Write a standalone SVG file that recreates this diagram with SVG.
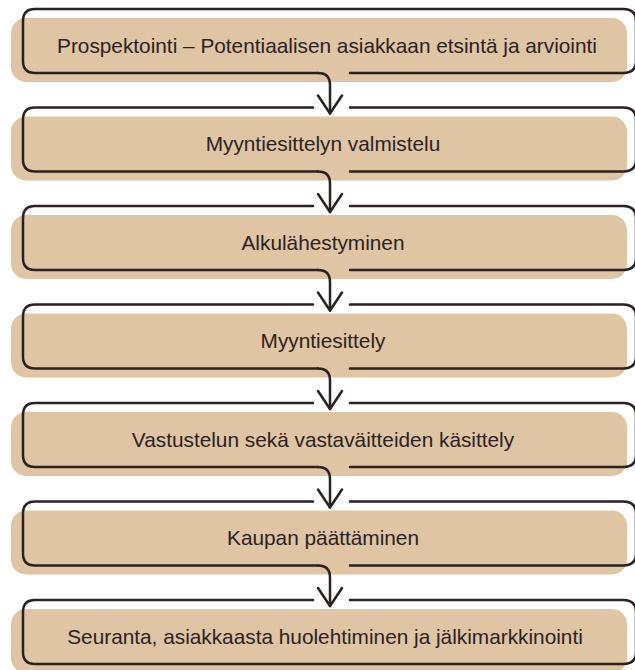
<svg xmlns="http://www.w3.org/2000/svg" width="635" height="670" viewBox="0 0 635 670">
<style>
.bg{fill:#DFC5A3;}
.ol{fill:none;stroke:#2b2121;stroke-width:2.5;stroke-linecap:round;stroke-linejoin:round;}
.t{font-family:"Liberation Sans",Arial,sans-serif;font-size:20.8px;fill:#2b2222;text-anchor:middle;}
</style>
<defs>
<marker id="ah" markerUnits="userSpaceOnUse" viewBox="-20 -20 40 40" markerWidth="40" markerHeight="40" refX="0" refY="0" orient="auto">
<path d="M -18,-12 L 0,0 L -18,12" fill="none" stroke="#2b2121" stroke-width="2.5" stroke-linecap="round" stroke-linejoin="round"/>
</marker>
</defs>
<rect width="635" height="670" fill="#ffffff"/>
<g id="step1">
<rect class="bg" x="11" y="18" width="616" height="64" rx="15"/>
<path class="ol" d="M 350,73 L 623,73 Q 636,73 636,61 L 636,21 Q 636,9 623,9 L 35,9 Q 23,9 23,21 L 23,61 Q 23,73 35,73 L 318,73"/>
<text class="t" x="327" y="52.5">Prospektointi – Potentiaalisen asiakkaan etsintä ja arviointi</text>
</g>
<g id="step2">
<rect class="bg" x="11" y="116.5" width="616" height="64" rx="15"/>
<path class="ol" d="M 313,107.5 L 35,107.5 Q 23,107.5 23,119.5 L 23,159.5 Q 23,171.5 35,171.5 L 318,171.5 M 350,171.5 L 623,171.5 Q 636,171.5 636,159.5 L 636,119.5 Q 636,107.5 623,107.5 L 350,107.5"/>
<text class="t" x="323" y="151">Myyntiesittelyn valmistelu</text>
</g>
<g id="step3">
<rect class="bg" x="11" y="215" width="616" height="64" rx="15"/>
<path class="ol" d="M 313,206 L 35,206 Q 23,206 23,218 L 23,258 Q 23,270 35,270 L 318,270 M 350,270 L 623,270 Q 636,270 636,258 L 636,218 Q 636,206 623,206 L 350,206"/>
<text class="t" x="323" y="249.5">Alkulähestyminen</text>
</g>
<g id="step4">
<rect class="bg" x="11" y="313.5" width="616" height="64" rx="15"/>
<path class="ol" d="M 313,304.5 L 35,304.5 Q 23,304.5 23,316.5 L 23,356.5 Q 23,368.5 35,368.5 L 318,368.5 M 350,368.5 L 623,368.5 Q 636,368.5 636,356.5 L 636,316.5 Q 636,304.5 623,304.5 L 350,304.5"/>
<text class="t" x="323" y="348">Myyntiesittely</text>
</g>
<g id="step5">
<rect class="bg" x="11" y="412" width="616" height="64" rx="15"/>
<path class="ol" d="M 313,403 L 35,403 Q 23,403 23,415 L 23,455 Q 23,467 35,467 L 318,467 M 350,467 L 623,467 Q 636,467 636,455 L 636,415 Q 636,403 623,403 L 350,403"/>
<text class="t" x="323" y="446.5">Vastustelun sekä vastaväitteiden käsittely</text>
</g>
<g id="step6">
<rect class="bg" x="11" y="510.5" width="616" height="64" rx="15"/>
<path class="ol" d="M 313,501.5 L 35,501.5 Q 23,501.5 23,513.5 L 23,553.5 Q 23,565.5 35,565.5 L 318,565.5 M 350,565.5 L 623,565.5 Q 636,565.5 636,553.5 L 636,513.5 Q 636,501.5 623,501.5 L 350,501.5"/>
<text class="t" x="323" y="545">Kaupan päättäminen</text>
</g>
<g id="step7">
<rect class="bg" x="11" y="609" width="616" height="64" rx="15"/>
<path class="ol" d="M 313,600 L 35,600 Q 23,600 23,612 L 23,652 Q 23,664 35,664 L 623,664 Q 636,664 636,652 L 636,612 Q 636,600 623,600 L 350,600"/>
<text class="t" x="325" y="643.5">Seuranta, asiakkaasta huolehtiminen ja jälkimarkkinointi</text>
</g>
<g id="connectors" class="ol" marker-end="url(#ah)">
<path d="M 318,73 Q 330,73 330,85 L 330,113.5"/>
<path d="M 318,171.5 Q 330,171.5 330,183.5 L 330,212"/>
<path d="M 318,270 Q 330,270 330,282 L 330,310.5"/>
<path d="M 318,368.5 Q 330,368.5 330,380.5 L 330,409"/>
<path d="M 318,467 Q 330,467 330,479 L 330,507.5"/>
<path d="M 318,565.5 Q 330,565.5 330,577.5 L 330,606"/>
</g>
</svg>
